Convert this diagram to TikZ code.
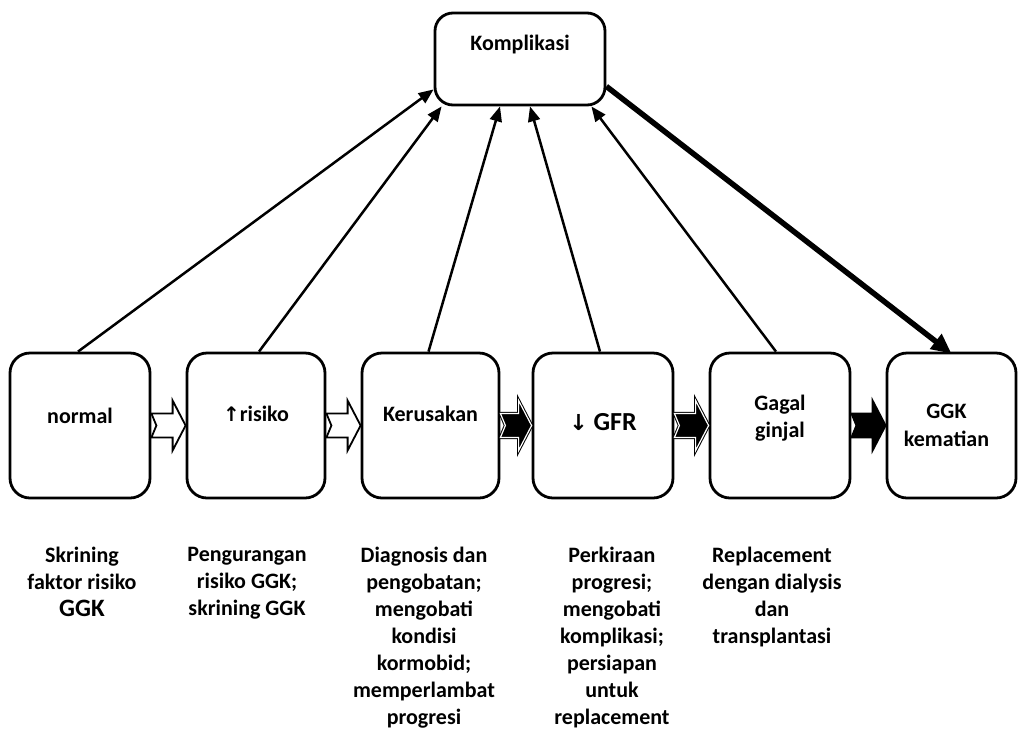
\documentclass[tikz,border=0pt]{standalone}
\usepackage{fontspec}
\setmainfont{Carlito}
\newfontfamily\symfont{DejaVu Sans}
\usetikzlibrary{arrows.meta,calc}
\newcommand\blkarrow[3]{%
  \path[#3] ($(#1.east)+(0,-12)$) -- ($(#2.west)+(-13,-12)$) -- ($(#2.west)+(-13,-25)$)
    -- (#2.west) -- ($(#2.west)+(-13,25)$) -- ($(#2.west)+(-13,12)$)
    -- ($(#1.east)+(0,12)$) -- ($(#1.east)+(5,0)$) -- cycle;}
\begin{document}
\begin{tikzpicture}[x=1pt,y=-1pt,
  box/.style={draw, line width=2.8pt, rounded corners=20pt, minimum height=145pt, inner sep=0},
  lbl/.style={font=\fontsize{22}{27}\selectfont\bfseries, align=center, inner sep=0},
  desc/.style={font=\fontsize{22}{27}\selectfont\bfseries, align=center, inner sep=0, anchor=north},
  uparrow/.style={line width=2.5pt, -{Triangle[length=15pt,width=12pt]}},
  bigarrow/.style={line width=5.5pt, -{Triangle[length=20pt,width=18pt]}},
  whitearrow/.style={draw=black, fill=white, line width=1.8pt, line join=miter},
  midarrow/.style={draw=black, fill=black, line width=1pt, double=white, double distance=1.2pt, line join=miter},
  blackarrow/.style={draw=black, fill=black, line width=1.8pt, line join=miter}]
\useasboundingbox (0,0) rectangle (1018,732);

% top box
\node[box, rounded corners=18pt, minimum width=170pt, minimum height=92pt] (k) at (520,59) {};
\node[lbl] (kt) at (520,45) {Komplikasi};

% stage boxes
\node[box, minimum width=140pt] (b1) at (80,425.5) {};
\node[box, minimum width=138pt] (b2) at (256,425.5) {};
\node[box, minimum width=137pt] (b3) at (430.5,425.5) {};
\node[box, minimum width=140pt] (b4) at (603,425.5) {};
\node[box, minimum width=140pt] (b5) at (780,425.5) {};
\node[box, minimum width=129pt] (b6) at (951.5,425.5) {};

\node[lbl] (t1) at ($(b1.center)+(0,-10)$) {normal};
\node[lbl] (t2) at ($(b2.center)+(0,-12)$) {{\symfont\bfseries\fontsize{20}{24}\selectfont ↑}risiko};
\node[lbl] (t3) at ($(b3.center)+(0,-12)$) {Kerusakan};
\node[lbl, font=\fontsize{26}{30}\selectfont\bfseries] (t4) at ($(b4.center)+(0,-3)$) {{\symfont\bfseries\fontsize{22}{26}\selectfont ↓} GFR};
\node[lbl] (t5) at ($(b5.center)+(0,-7)$) {Gagal\\ginjal};
\node[lbl, font=\fontsize{22}{28}\selectfont\bfseries] (t6) at ($(b6.center)+(-5,0)$) {GGK\\kematian};

% block arrows between stages
\blkarrow{b1}{b2}{whitearrow}
\blkarrow{b2}{b3}{whitearrow}
\blkarrow{b3}{b4}{midarrow}
\blkarrow{b4}{b5}{midarrow}
\blkarrow{b5}{b6}{blackarrow}

% arrows to Komplikasi
\draw[uparrow] ($(b1.north)+(-2,0)$) -- ($(k.south west)+(0,-17)$);
\draw[uparrow] ($(b2.north)+(3,0)$) -- ($(k.south west)+(8,0)$);
\draw[uparrow] ($(b3.north)+(-2,0)$) -- ($(k.south)+(-20,0)$);
\draw[uparrow] ($(b4.north)+(-3,0)$) -- ($(k.south)+(10,0)$);
\draw[uparrow] ($(b5.north)+(-4,0)$) -- ($(k.south east)+(-15,0)$);
\draw[bigarrow] ($(k.south east)+(0,-20)$) -- ($(b6.north)+(0,2)$);

% descriptions
\node[desc] (d1) at (82,547) {Skrining\\faktor risiko\\{\fontsize{25}{27}\selectfont GGK}};
\node[desc] (d2) at (247,547) {Pengurangan\\risiko GGK;\\skrining GGK};
\node[desc] (d3) at (424,547) {Diagnosis dan\\pengobatan;\\mengobati\\kondisi\\kormobid;\\memperlambat\\progresi};
\node[desc] (d4) at (612,547) {Perkiraan\\progresi;\\mengobati\\komplikasi;\\persiapan\\untuk\\replacement};
\node[desc] (d5) at (772,547) {Replacement\\dengan dialysis\\dan\\transplantasi};
\end{tikzpicture}
\end{document}
